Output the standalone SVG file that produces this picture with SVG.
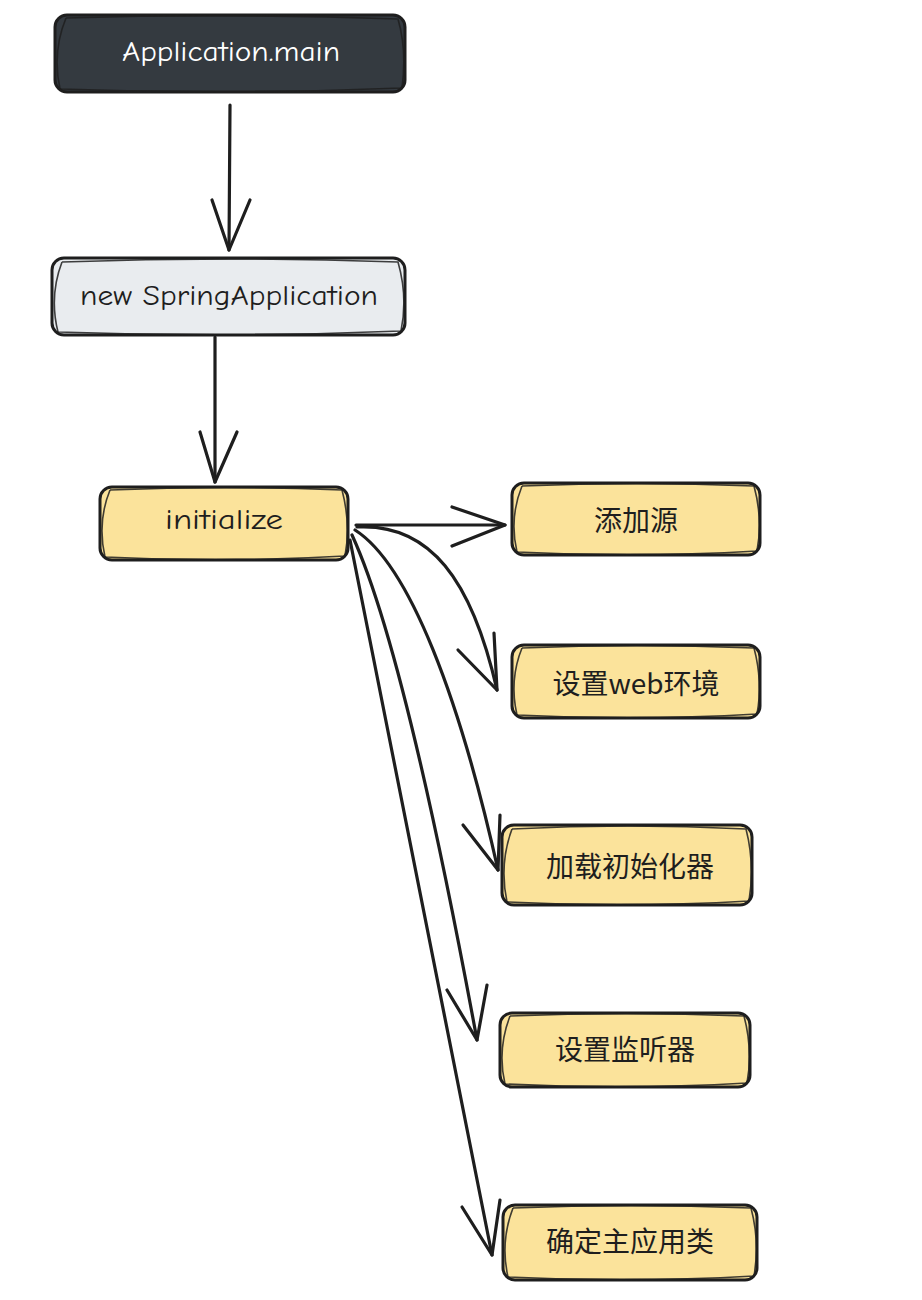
<svg xmlns="http://www.w3.org/2000/svg" width="922" height="1300" viewBox="0 0 922 1300">
<style>
.box{stroke:#1e1e1e;stroke-width:3;stroke-linejoin:round}
.sk{fill:none;stroke:#1e1e1e;stroke-width:1.6;opacity:0.85}
.dark{fill:#343a40}
.gray{fill:#e9ecef}
.yel{fill:#fbe39b}
.lbl{font-family:"Comic Neue","Liberation Sans","Noto Sans CJK SC",sans-serif;font-size:28px;text-anchor:middle;dominant-baseline:central;fill:#1e1e1e}
.cn{font-family:"Noto Sans CJK SC","Liberation Sans",sans-serif;font-size:28px;text-anchor:middle;dominant-baseline:central;fill:#1e1e1e}
.ln{fill:none;stroke:#1e1e1e;stroke-width:3.2;stroke-linecap:round;stroke-linejoin:round}
</style>
<rect width="922" height="1300" fill="#ffffff"/>
<g id="connectors">
  <path class="ln" d="M230,105 L229,250"/>
  <path class="ln" d="M212,200 L229,250 L250,200"/>
  <path class="ln" d="M215,337 L215,482"/>
  <path class="ln" d="M200,432 L215,482 L237,432"/>
  <path class="ln" d="M356,525 L505,525"/>
  <path class="ln" d="M452,507 L505,525 L452,546"/>
  <path class="ln" d="M357,527 C430,523 472,580 497,690"/>
  <path class="ln" d="M458,650 L497,690 L494,633"/>
  <path class="ln" d="M355,530 C410,565 460,700 498,870"/>
  <path class="ln" d="M463,825 L498,870 L500,815"/>
  <path class="ln" d="M352,535 Q405,650 477,1040"/>
  <path class="ln" d="M447,990 L477,1040 L487,985"/>
  <path class="ln" d="M350,540 L492,1255"/>
  <path class="ln" d="M462,1207 L492,1255 L500,1200"/>
</g>
<g id="node-main">
  <rect class="box dark" x="55" y="15" width="350" height="77" rx="12"/>
  <path class="sk" d="M66,18 Q230,13 398,19 Q407,50 402,88 Q230,95 60,89 Q52,52 66,18"/>
  <text class="lbl" x="231" y="52" textLength="218" lengthAdjust="spacingAndGlyphs" style="fill:#ffffff">Application.main</text>
</g>
<g id="node-new">
  <rect class="box gray" x="52" y="258" width="353" height="77" rx="12"/>
  <path class="sk" d="M62,262 Q230,256 398,262 Q408,297 401,331 Q230,338 58,332 Q49,296 62,262"/>
  <text class="lbl" x="229" y="296" textLength="298" lengthAdjust="spacingAndGlyphs">new SpringApplication</text>
</g>
<g id="node-init">
  <rect class="box yel" x="100" y="487" width="248" height="73" rx="12"/>
  <path class="sk" d="M110,490 Q224,485 342,490 Q351,524 345,556 Q224,563 105,557 Q97,522 110,490"/>
  <text class="lbl" x="224" y="520" textLength="118" lengthAdjust="spacingAndGlyphs">initialize</text>
</g>
<g id="node-source">
  <rect class="box yel" x="512" y="483" width="248" height="72" rx="12"/>
  <path class="sk" d="M522,486 Q636,481 754,486 Q763,519 757,551 Q636,558 517,552 Q509,518 522,486"/>
  <text class="cn" x="636" y="519">添加源</text>
</g>
<g id="node-web">
  <rect class="box yel" x="512" y="645" width="248" height="73" rx="12"/>
  <path class="sk" d="M522,648 Q636,643 754,648 Q763,682 757,714 Q636,721 517,715 Q509,680 522,648"/>
  <text class="cn" x="636" y="682">设置web环境</text>
</g>
<g id="node-initializer">
  <rect class="box yel" x="502" y="825" width="250" height="80" rx="12"/>
  <path class="sk" d="M512,829 Q627,823 746,829 Q755,864 749,901 Q627,908 507,902 Q499,864 512,829"/>
  <text class="cn" x="630" y="865">加载初始化器</text>
</g>
<g id="node-listener">
  <rect class="box yel" x="500" y="1013" width="250" height="74" rx="12"/>
  <path class="sk" d="M510,1016 Q625,1011 744,1016 Q753,1050 747,1083 Q625,1090 505,1084 Q497,1050 510,1016"/>
  <text class="cn" x="625" y="1048">设置监听器</text>
</g>
<g id="node-mainclass">
  <rect class="box yel" x="503" y="1205" width="254" height="75" rx="12"/>
  <path class="sk" d="M513,1208 Q630,1203 751,1208 Q760,1242 754,1276 Q630,1283 508,1277 Q500,1242 513,1208"/>
  <text class="cn" x="630" y="1240">确定主应用类</text>
</g>
</svg>
